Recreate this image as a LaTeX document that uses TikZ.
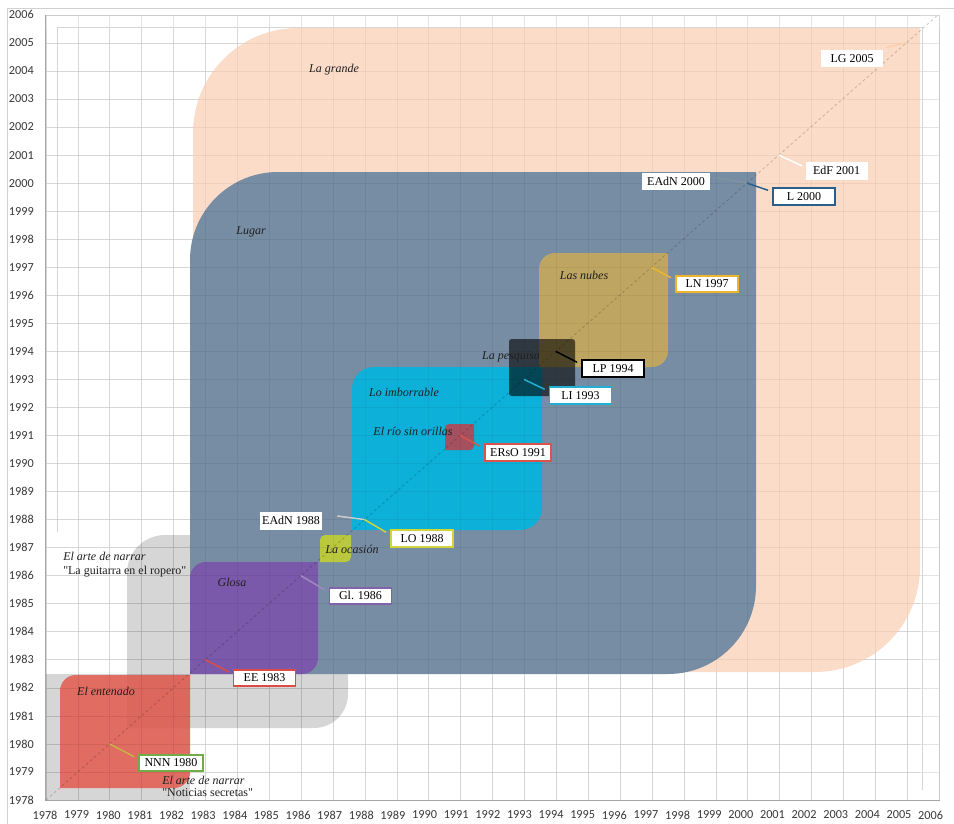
\documentclass[tikz,border=0pt]{standalone}
\usepackage{fontspec}
\setmainfont{Liberation Serif}
\newfontfamily\axisfont{Carlito}
\newfontfamily\qfont{Liberation Serif}
\newcommand\sq{{\qfont\symbol{34}}}
\usetikzlibrary{calc}
\definecolor{cpeach}{HTML}{FBDCC8}
\definecolor{clugar}{HTML}{778DA4}
\definecolor{cred}{HTML}{E25A4E}
\definecolor{cpurple}{HTML}{7A58AA}
\definecolor{cocas}{HTML}{B9C83C}
\definecolor{ccyan}{HTML}{0CB0D8}
\definecolor{crio}{HTML}{A5505F}
\definecolor{cnubes}{HTML}{BEA561}
\definecolor{cgridl}{HTML}{E3E3E3}
\definecolor{cL}{HTML}{2A5F8C}
\definecolor{cLN}{HTML}{EDB52E}
\definecolor{cLI}{HTML}{22AFD6}
\definecolor{cERsO}{HTML}{D9534F}
\definecolor{cLO}{HTML}{D2D43A}
\definecolor{cGl}{HTML}{8064AA}
\definecolor{cEE}{HTML}{DD4B45}
\definecolor{cNNN}{HTML}{70AD47}
\definecolor{cNNNl}{HTML}{C9B347}
\newcommand\rdbox[6]{\fill[#1] (#2,#5) -- (#2,#3+#6) arc[start angle=180,end angle=270,radius=#6] -- (#4,#3) -- (#4,#5-#6) arc[start angle=0,end angle=90,radius=#6] -- cycle;}
\begin{document}
\begin{tikzpicture}[x=0.75pt,y=-0.75pt,
  lbl/.style={draw=#1, line width=1.3pt, fill=white, font=\fontsize{9}{10}\selectfont,
    text height=6.3pt, text depth=0.4pt, inner ysep=2.9pt, inner xsep=4pt, minimum width=46.5pt},
  wlbl/.style={fill=white, font=\fontsize{9}{10}\selectfont,
    text height=6.3pt, text depth=0.4pt, inner ysep=3.2pt, inner xsep=4pt, minimum width=46.5pt},
  conn/.style={line width=1.1pt, draw=#1},
  ttl/.style={font=\fontsize{9}{10}\selectfont\itshape, text=black!88, inner sep=0pt},
  ttlu/.style={font=\fontsize{9}{10}\selectfont, text=black!88, inner sep=0pt},
  axl/.style={font=\axisfont\fontsize{9.2}{10}\selectfont, text=black!78, inner sep=0pt},
  gridln/.style={draw=cgridl, line width=0.5pt}
]
\useasboundingbox (0,0) rectangle (954,824);
% outer chart border
\draw[draw=black!18, line width=0.6pt] (7,824) -- (7,8) -- (954,8);
% grid
\foreach \k in {0,...,28} {
  \draw[gridln] ({46+\k*31.9},15) -- ({46+\k*31.9},800);
  \draw[gridln] (46,{800-\k*28.04}) -- (939,{800-\k*28.04});
}
\draw[draw=black!16, line width=0.6pt] (57,532) -- (57,27) -- (922,27) -- (922,790);
\draw[draw=black!16, line width=0.6pt] (939,15) -- (939,800);
\draw[draw=black!16, line width=0.6pt] (45,15) -- (939,15);
% shapes
\rdbox{cpeach}{193}{28}{920}{672}{105}
\fill[black, opacity=0.16] (45,674) rectangle (190,800);
\fill[black, opacity=0.16] (127,728) -- (127,535+38) arc[start angle=180,end angle=270,radius=38] -- (348,535) -- (348,728-34) arc[start angle=0,end angle=90,radius=34] -- cycle;
\rdbox{clugar}{190}{172}{756}{674}{88}
\rdbox{cred, opacity=0.85}{60}{675}{190}{788}{16}
\rdbox{cpurple}{190}{562}{318}{674}{16}
\rdbox{cocas}{320}{535}{351}{562}{5}
\rdbox{ccyan}{352}{367}{542}{530}{22}
\rdbox{crio}{445}{424}{474}{450}{4}
\rdbox{cnubes}{539}{253}{668}{367}{16}
\fill[black, opacity=0.6, rounded corners=2pt] (509,339) rectangle (575,396);
% faint grid over shapes
\foreach \k in {0,...,28} {
  \draw[black, opacity=0.05, line width=0.5pt] ({46+\k*31.9},28) -- ({46+\k*31.9},800);
  \draw[black, opacity=0.05, line width=0.5pt] (46,{800-\k*28.04}) -- (920,{800-\k*28.04});
}
% axes
\draw[draw=black!35, line width=0.7pt] (45,15) -- (45,800) -- (940,800);
% diagonal
\coordinate (dstart) at (46,800);
\coordinate (dend) at (938,15);
\draw[black, opacity=0.2, line width=0.6pt, dash pattern=on 2pt off 2pt] (dstart) -- (dend);
\foreach \yr in {1980,1983,1986,1988,1991,1993,1994,1997,2000,2001,2005}
  \coordinate (d\yr) at ({46+(\yr-1978)*31.86},{800-(\yr-1978)*28.04});
% axis labels
\foreach \k [evaluate=\k as \yr using int(1978+\k)] in {0,...,28} {
  \node[axl, anchor=east] (yl\k) at (34,{800-\k*28.04}) {\yr};
  \node[axl] (xl\k) at ({45+\k*31.63},815) {\yr};
}
% titles
\node[ttl] (tgrande) at (334,70) {La grande};
\node[ttl] (tlugar) at (251,232) {Lugar};
\node[ttl] (tnubes) at (584,275) {Las nubes};
\node[ttl] (tpesq) at (511,357) {La pesquisa};
\node[ttl] (timb) at (404,392) {Lo imborrable};
\node[ttl] (trio) at (413,431) {El río sin orillas};
\node[ttl] (tocas) at (352,549) {La ocasión};
\node[ttl] (tglosa) at (232,582) {Glosa};
\node[ttl] (tent) at (106,691) {El entenado};
\node[ttl, anchor=west] (tgui1) at (63,556) {El arte de narrar};
\node[ttlu, anchor=west] (tgui2) at (63,572) {\sq La guitarra en el ropero\sq};
\node[ttl, anchor=west] (tnot1) at (162,780) {El arte de narrar};
\node[ttlu, anchor=west] (tnot2) at (162,793) {\sq Noticias secretas\sq};
% connectors and labels
\node[wlbl] (LG) at (852,58.5) {LG 2005};
\node[wlbl] (EdF) at (836.5,171) {EdF 2001};
\node[wlbl] (EAdN2000) at (676,181.5) {EAdN 2000};
\node[lbl=cL] (L2000) at (804,196.5) {L 2000};
\node[lbl=cLN] (LN) at (707,284) {LN 1997};
\node[lbl=black] (LP) at (613,368.5) {LP 1994};
\node[lbl=cLI] (LI) at (580.5,395.5) {LI 1993};
\node[lbl=cERsO] (ERsO) at (518,452.5) {ERsO 1991};
\node[lbl=cLO] (LO) at (422,538.5) {LO 1988};
\node[wlbl, inner xsep=1.5pt] (EAdN1988) at (291,521) {EAdN 1988};
\node[lbl=cGl] (Gl) at (360.5,596) {Gl. 1986};
\node[lbl=cEE] (EE) at (264.5,678) {EE 1983};
\node[lbl=cNNN] (NNN) at (171,763) {NNN 1980};
\draw[conn=cpeach!85!orange] ($(LG.north east)+(3,-2)$) -- (d2005);
\draw[conn=white] (d2001) -- ($(EdF.north west)+(-3,4)$);
\draw[conn={black!25!cyan!30!gray}] ($(EAdN2000.east)+(6,-4)$) -- (d2000);
\draw[conn=cL] (d2000) -- ($(L2000.north west)+(-4,3)$);
\draw[conn=cLN] (d1997) -- ($(LN.north west)+(-4,3)$);
\draw[conn=black] (d1994) -- ($(LP.north west)+(-4,3)$);
\draw[conn=cLI] (d1993) -- ($(LI.north west)+(-4,3)$);
\draw[conn=cERsO] (d1991) -- ($(ERsO.north west)+(-4,3)$);
\draw[conn=black!20] ($(EAdN1988.east)+(15,-5)$) -- (d1988);
\draw[conn=cLO] (d1988) -- ($(LO.north west)+(-4,3)$);
\draw[conn=cGl!75!white] (d1986) -- ($(Gl.north west)+(-4,3)$);
\draw[conn=cEE] (d1983) -- ($(EE.north west)+(-4,3)$);
\draw[conn=cNNNl] (d1980) -- ($(NNN.north west)+(-4,3)$);
\end{tikzpicture}
\end{document}
